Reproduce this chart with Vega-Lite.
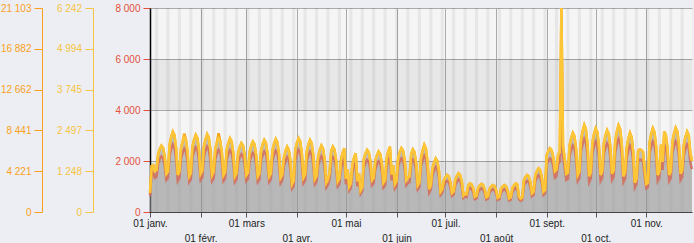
{
"$schema":"https://vega.github.io/schema/vega-lite/v6.json",
"width":542,"height":204,
"autosize":{"type":"none"},
"padding":{"left":150,"top":8,"right":2,"bottom":31},
"background":"#eceef3",
"config":{"view":{"fill":"#f5f5f5","stroke":null},"axis":{"labelFont":"Liberation Sans","labelFontSize":10,"title":null,"gridColor":"#aaaaaa","gridWidth":1}},
"datasets":{
"b":[{"y1":0,"y2":2000},{"y1":4000,"y2":6000}],
"w":[
{"s":"2014-01-04","e":"2014-01-06"},{"s":"2014-01-11","e":"2014-01-13"},{"s":"2014-01-18","e":"2014-01-20"},{"s":"2014-01-25","e":"2014-01-27"},
{"s":"2014-02-01","e":"2014-02-03"},{"s":"2014-02-08","e":"2014-02-10"},{"s":"2014-02-15","e":"2014-02-17"},{"s":"2014-02-22","e":"2014-02-24"},
{"s":"2014-03-01","e":"2014-03-03"},{"s":"2014-03-08","e":"2014-03-10"},{"s":"2014-03-15","e":"2014-03-17"},{"s":"2014-03-22","e":"2014-03-24"},{"s":"2014-03-29","e":"2014-03-31"},
{"s":"2014-04-05","e":"2014-04-07"},{"s":"2014-04-12","e":"2014-04-14"},{"s":"2014-04-19","e":"2014-04-21"},{"s":"2014-04-26","e":"2014-04-28"},
{"s":"2014-05-03","e":"2014-05-05"},{"s":"2014-05-10","e":"2014-05-12"},{"s":"2014-05-17","e":"2014-05-19"},{"s":"2014-05-24","e":"2014-05-26"},{"s":"2014-05-31","e":"2014-06-02"},
{"s":"2014-06-07","e":"2014-06-09"},{"s":"2014-06-14","e":"2014-06-16"},{"s":"2014-06-21","e":"2014-06-23"},{"s":"2014-06-28","e":"2014-06-30"},
{"s":"2014-07-05","e":"2014-07-07"},{"s":"2014-07-12","e":"2014-07-14"},{"s":"2014-07-19","e":"2014-07-21"},{"s":"2014-07-26","e":"2014-07-28"},
{"s":"2014-08-02","e":"2014-08-04"},{"s":"2014-08-09","e":"2014-08-11"},{"s":"2014-08-16","e":"2014-08-18"},{"s":"2014-08-23","e":"2014-08-25"},{"s":"2014-08-30","e":"2014-09-01"},
{"s":"2014-09-06","e":"2014-09-08"},{"s":"2014-09-13","e":"2014-09-15"},{"s":"2014-09-20","e":"2014-09-22"},{"s":"2014-09-27","e":"2014-09-29"},
{"s":"2014-10-04","e":"2014-10-06"},{"s":"2014-10-11","e":"2014-10-13"},{"s":"2014-10-18","e":"2014-10-20"},{"s":"2014-10-25","e":"2014-10-27"},
{"s":"2014-11-01","e":"2014-11-03"},{"s":"2014-11-08","e":"2014-11-10"},{"s":"2014-11-15","e":"2014-11-17"},{"s":"2014-11-22","e":"2014-11-24"},{"s":"2014-11-29","e":"2014-12-01"}
],
"m":[
{"d":"2014-01-01","v":585,"r":630,"p":1980},{"d":"2014-01-02","v":1404,"r":1512,"p":4752},{"d":"2014-01-03","v":1427,"r":1537,"p":4831},{"d":"2014-01-04","v":1248,"r":1344,"p":4224},{"d":"2014-01-05","v":1287,"r":1386,"p":4356},
{"d":"2014-01-06","v":1771,"r":1907,"p":5993},{"d":"2014-01-07","v":1927,"r":2075,"p":6521},{"d":"2014-01-08","v":2028,"r":2184,"p":6864},{"d":"2014-01-09","v":1958,"r":2108,"p":6626},{"d":"2014-01-10","v":1700,"r":1831,"p":5755},{"d":"2014-01-11","v":1170,"r":1260,"p":3960},{"d":"2014-01-12","v":1240,"r":1336,"p":4198},
{"d":"2014-01-13","v":2059,"r":2218,"p":6970},{"d":"2014-01-14","v":2301,"r":2478,"p":7788},{"d":"2014-01-15","v":2457,"r":2646,"p":8316},{"d":"2014-01-16","v":2348,"r":2528,"p":7946},{"d":"2014-01-17","v":1950,"r":2100,"p":6600},{"d":"2014-01-18","v":1131,"r":1218,"p":3828},{"d":"2014-01-19","v":1240,"r":1336,"p":4198},
{"d":"2014-01-20","v":1942,"r":2092,"p":6574},{"d":"2014-01-21","v":2153,"r":2318,"p":7286},{"d":"2014-01-22","v":2301,"r":2478,"p":8100},{"d":"2014-01-23","v":2207,"r":2377,"p":7471},{"d":"2014-01-24","v":1841,"r":1982,"p":6230},{"d":"2014-01-25","v":1092,"r":1176,"p":3696},{"d":"2014-01-26","v":1186,"r":1277,"p":4013},
{"d":"2014-01-27","v":1997,"r":2150,"p":6758},{"d":"2014-01-28","v":2215,"r":2386,"p":7498},{"d":"2014-01-29","v":2356,"r":2537,"p":7973},{"d":"2014-01-30","v":2262,"r":2436,"p":7656},{"d":"2014-01-31","v":1903,"r":2050,"p":6442},{"d":"2014-02-01","v":1170,"r":1260,"p":3960},{"d":"2014-02-02","v":1264,"r":1361,"p":4277},
{"d":"2014-02-03","v":2005,"r":2159,"p":6785},{"d":"2014-02-04","v":2231,"r":2402,"p":7550},{"d":"2014-02-05","v":2379,"r":2562,"p":8052},{"d":"2014-02-06","v":2278,"r":2453,"p":7709},{"d":"2014-02-07","v":1903,"r":2050,"p":6442},{"d":"2014-02-08","v":1131,"r":1218,"p":3828},{"d":"2014-02-09","v":1232,"r":1327,"p":4171},
{"d":"2014-02-10","v":1927,"r":2075,"p":6521},{"d":"2014-02-11","v":2129,"r":2293,"p":7207},{"d":"2014-02-12","v":2262,"r":2436,"p":8150},{"d":"2014-02-13","v":2168,"r":2335,"p":7339},{"d":"2014-02-14","v":1833,"r":1974,"p":6204},{"d":"2014-02-15","v":1131,"r":1218,"p":3828},{"d":"2014-02-16","v":1225,"r":1319,"p":4145},
{"d":"2014-02-17","v":1903,"r":2050,"p":6442},{"d":"2014-02-18","v":2114,"r":2276,"p":7154},{"d":"2014-02-19","v":2254,"r":2428,"p":7630},{"d":"2014-02-20","v":2161,"r":2327,"p":7313},{"d":"2014-02-21","v":1810,"r":1949,"p":6125},{"d":"2014-02-22","v":1092,"r":1176,"p":3696},{"d":"2014-02-23","v":1186,"r":1277,"p":4013},
{"d":"2014-02-24","v":1817,"r":1957,"p":6151},{"d":"2014-02-25","v":1989,"r":2142,"p":6732},{"d":"2014-02-26","v":2106,"r":2268,"p":7128},{"d":"2014-02-27","v":2028,"r":2184,"p":6864},{"d":"2014-02-28","v":1739,"r":1873,"p":5887},{"d":"2014-03-01","v":1131,"r":1218,"p":3828},{"d":"2014-03-02","v":1209,"r":1302,"p":4092},
{"d":"2014-03-03","v":1833,"r":1974,"p":6204},{"d":"2014-03-04","v":2028,"r":2184,"p":6864},{"d":"2014-03-05","v":2153,"r":2318,"p":7286},{"d":"2014-03-06","v":2067,"r":2226,"p":6996},{"d":"2014-03-07","v":1747,"r":1882,"p":5914},{"d":"2014-03-08","v":1092,"r":1176,"p":3696},{"d":"2014-03-09","v":1178,"r":1268,"p":3986},
{"d":"2014-03-10","v":1864,"r":2008,"p":6310},{"d":"2014-03-11","v":2067,"r":2226,"p":6996},{"d":"2014-03-12","v":2200,"r":2369,"p":7445},{"d":"2014-03-13","v":2114,"r":2276,"p":7154},{"d":"2014-03-14","v":1778,"r":1915,"p":6019},{"d":"2014-03-15","v":1092,"r":1176,"p":3696},{"d":"2014-03-16","v":1178,"r":1268,"p":3986},
{"d":"2014-03-17","v":1880,"r":2024,"p":6362},{"d":"2014-03-18","v":2090,"r":2251,"p":7075},{"d":"2014-03-19","v":2231,"r":2402,"p":7550},{"d":"2014-03-20","v":2137,"r":2302,"p":7234},{"d":"2014-03-21","v":1786,"r":1924,"p":6046},{"d":"2014-03-22","v":1053,"r":1134,"p":3564},{"d":"2014-03-23","v":1147,"r":1235,"p":3881},
{"d":"2014-03-24","v":1654,"r":1781,"p":5597},{"d":"2014-03-25","v":1864,"r":2008,"p":6310},{"d":"2014-03-26","v":1997,"r":2150,"p":6758},{"d":"2014-03-27","v":1903,"r":2050,"p":6442},{"d":"2014-03-28","v":1568,"r":1688,"p":5306},{"d":"2014-03-29","v":858,"r":924,"p":2904},{"d":"2014-03-30","v":952,"r":1025,"p":3221},
{"d":"2014-03-31","v":1895,"r":2041,"p":6415},{"d":"2014-04-01","v":2114,"r":2276,"p":7154},{"d":"2014-04-02","v":2254,"r":2428,"p":7630},{"d":"2014-04-03","v":2161,"r":2327,"p":7313},{"d":"2014-04-04","v":1802,"r":1940,"p":6098},{"d":"2014-04-05","v":1053,"r":1134,"p":3564},{"d":"2014-04-06","v":1147,"r":1235,"p":3881},
{"d":"2014-04-07","v":1841,"r":1982,"p":6230},{"d":"2014-04-08","v":2059,"r":2218,"p":6970},{"d":"2014-04-09","v":2200,"r":2369,"p":7445},{"d":"2014-04-10","v":2106,"r":2268,"p":7128},{"d":"2014-04-11","v":1747,"r":1882,"p":5914},{"d":"2014-04-12","v":1014,"r":1092,"p":3432},{"d":"2014-04-13","v":1108,"r":1193,"p":3749},
{"d":"2014-04-14","v":1693,"r":1823,"p":5729},{"d":"2014-04-15","v":1895,"r":2041,"p":6415},{"d":"2014-04-16","v":2028,"r":2184,"p":6864},{"d":"2014-04-17","v":1934,"r":2083,"p":6547},{"d":"2014-04-18","v":1599,"r":1722,"p":5412},{"d":"2014-04-19","v":897,"r":966,"p":3036},{"d":"2014-04-20","v":991,"r":1067,"p":3353},
{"d":"2014-04-21","v":1201,"r":1294,"p":4066},{"d":"2014-04-22","v":1872,"r":2016,"p":6336},{"d":"2014-04-23","v":1997,"r":2150,"p":6758},{"d":"2014-04-24","v":1911,"r":2058,"p":6468},{"d":"2014-04-25","v":1591,"r":1714,"p":5386},{"d":"2014-04-26","v":936,"r":1008,"p":3168},{"d":"2014-04-27","v":1022,"r":1100,"p":3458},
{"d":"2014-04-28","v":1599,"r":1722,"p":5412},{"d":"2014-04-29","v":1810,"r":1949,"p":6125},{"d":"2014-04-30","v":1950,"r":2100,"p":6600},{"d":"2014-05-01","v":1014,"r":1092,"p":3432},{"d":"2014-05-02","v":1310,"r":1411,"p":4435},{"d":"2014-05-03","v":780,"r":840,"p":2640},{"d":"2014-05-04","v":874,"r":941,"p":2957},
{"d":"2014-05-05","v":1459,"r":1571,"p":4937},{"d":"2014-05-06","v":1661,"r":1789,"p":5623},{"d":"2014-05-07","v":1794,"r":1932,"p":6072},{"d":"2014-05-08","v":944,"r":1016,"p":3194},{"d":"2014-05-09","v":1170,"r":1260,"p":3960},{"d":"2014-05-10","v":663,"r":714,"p":2244},{"d":"2014-05-11","v":757,"r":815,"p":2561},
{"d":"2014-05-12","v":1622,"r":1747,"p":5491},{"d":"2014-05-13","v":1786,"r":1924,"p":6046},{"d":"2014-05-14","v":1895,"r":2041,"p":6415},{"d":"2014-05-15","v":1825,"r":1966,"p":6178},{"d":"2014-05-16","v":1544,"r":1663,"p":5227},{"d":"2014-05-17","v":975,"r":1050,"p":3300},{"d":"2014-05-18","v":1045,"r":1126,"p":3538},
{"d":"2014-05-19","v":1560,"r":1680,"p":5280},{"d":"2014-05-20","v":1732,"r":1865,"p":5861},{"d":"2014-05-21","v":1849,"r":1991,"p":6257},{"d":"2014-05-22","v":1771,"r":1907,"p":5993},{"d":"2014-05-23","v":1490,"r":1604,"p":5042},{"d":"2014-05-24","v":897,"r":966,"p":3036},{"d":"2014-05-25","v":975,"r":1050,"p":3300},
{"d":"2014-05-26","v":1654,"r":1781,"p":5597},{"d":"2014-05-27","v":1864,"r":2008,"p":6310},{"d":"2014-05-28","v":1997,"r":2150,"p":6758},{"d":"2014-05-29","v":1147,"r":1235,"p":3881},{"d":"2014-05-30","v":1427,"r":1537,"p":4831},{"d":"2014-05-31","v":858,"r":924,"p":2904},{"d":"2014-06-01","v":952,"r":1025,"p":3221},
{"d":"2014-06-02","v":1661,"r":1789,"p":5623},{"d":"2014-06-03","v":1833,"r":1974,"p":6204},{"d":"2014-06-04","v":1950,"r":2100,"p":6600},{"d":"2014-06-05","v":1872,"r":2016,"p":6336},{"d":"2014-06-06","v":1583,"r":1705,"p":5359},{"d":"2014-06-07","v":975,"r":1050,"p":3300},{"d":"2014-06-08","v":1053,"r":1134,"p":3564},
{"d":"2014-06-09","v":1092,"r":1176,"p":3696},{"d":"2014-06-10","v":1778,"r":1915,"p":6019},{"d":"2014-06-11","v":1911,"r":2058,"p":6468},{"d":"2014-06-12","v":1825,"r":1966,"p":6178},{"d":"2014-06-13","v":1498,"r":1613,"p":5069},{"d":"2014-06-14","v":819,"r":882,"p":2772},{"d":"2014-06-15","v":905,"r":974,"p":3062},
{"d":"2014-06-16","v":1646,"r":1772,"p":5570},{"d":"2014-06-17","v":1888,"r":2033,"p":6389},{"d":"2014-06-18","v":2051,"r":2209,"p":6943},{"d":"2014-06-19","v":1942,"r":2092,"p":6574},{"d":"2014-06-20","v":1537,"r":1655,"p":5201},{"d":"2014-06-21","v":702,"r":756,"p":2376},{"d":"2014-06-22","v":811,"r":874,"p":2746},
{"d":"2014-06-23","v":1334,"r":1436,"p":4514},{"d":"2014-06-24","v":1513,"r":1630,"p":5122},{"d":"2014-06-25","v":1638,"r":1764,"p":5544},{"d":"2014-06-26","v":1560,"r":1680,"p":5280},{"d":"2014-06-27","v":1256,"r":1352,"p":4250},{"d":"2014-06-28","v":624,"r":672,"p":2112},{"d":"2014-06-29","v":702,"r":756,"p":2376},
{"d":"2014-06-30","v":967,"r":1042,"p":3274},{"d":"2014-07-01","v":1069,"r":1151,"p":3617},{"d":"2014-07-02","v":1131,"r":1218,"p":3828},{"d":"2014-07-03","v":1084,"r":1168,"p":3670},{"d":"2014-07-04","v":920,"r":991,"p":3115},{"d":"2014-07-05","v":585,"r":630,"p":1980},{"d":"2014-07-06","v":632,"r":680,"p":2138},
{"d":"2014-07-07","v":983,"r":1058,"p":3326},{"d":"2014-07-08","v":1108,"r":1193,"p":3749},{"d":"2014-07-09","v":1186,"r":1277,"p":4013},{"d":"2014-07-10","v":1131,"r":1218,"p":3828},{"d":"2014-07-11","v":928,"r":1000,"p":3142},{"d":"2014-07-12","v":507,"r":546,"p":1716},{"d":"2014-07-13","v":562,"r":605,"p":1901},
{"d":"2014-07-14","v":546,"r":588,"p":1848},{"d":"2014-07-15","v":827,"r":890,"p":2798},{"d":"2014-07-16","v":874,"r":941,"p":2957},{"d":"2014-07-17","v":842,"r":907,"p":2851},{"d":"2014-07-18","v":725,"r":781,"p":2455},{"d":"2014-07-19","v":468,"r":504,"p":1584},{"d":"2014-07-20","v":499,"r":538,"p":1690},
{"d":"2014-07-21","v":733,"r":790,"p":2482},{"d":"2014-07-22","v":811,"r":874,"p":2746},{"d":"2014-07-23","v":858,"r":924,"p":2904},{"d":"2014-07-24","v":827,"r":890,"p":2798},{"d":"2014-07-25","v":702,"r":756,"p":2376},{"d":"2014-07-26","v":452,"r":487,"p":1531},{"d":"2014-07-27","v":484,"r":521,"p":1637},
{"d":"2014-07-28","v":710,"r":764,"p":2402},{"d":"2014-07-29","v":780,"r":840,"p":2640},{"d":"2014-07-30","v":827,"r":890,"p":2798},{"d":"2014-07-31","v":796,"r":857,"p":2693},{"d":"2014-08-01","v":679,"r":731,"p":2297},{"d":"2014-08-02","v":437,"r":470,"p":1478},{"d":"2014-08-03","v":468,"r":504,"p":1584},
{"d":"2014-08-04","v":702,"r":756,"p":2376},{"d":"2014-08-05","v":780,"r":840,"p":2640},{"d":"2014-08-06","v":827,"r":890,"p":2798},{"d":"2014-08-07","v":796,"r":857,"p":2693},{"d":"2014-08-08","v":671,"r":722,"p":2270},{"d":"2014-08-09","v":421,"r":454,"p":1426},{"d":"2014-08-10","v":452,"r":487,"p":1531},
{"d":"2014-08-11","v":733,"r":790,"p":2482},{"d":"2014-08-12","v":819,"r":882,"p":2772},{"d":"2014-08-13","v":874,"r":941,"p":2957},{"d":"2014-08-14","v":842,"r":907,"p":2851},{"d":"2014-08-15","v":476,"r":512,"p":1610},{"d":"2014-08-16","v":406,"r":437,"p":1373},{"d":"2014-08-17","v":445,"r":479,"p":1505},
{"d":"2014-08-18","v":967,"r":1042,"p":3274},{"d":"2014-08-19","v":1069,"r":1151,"p":3617},{"d":"2014-08-20","v":1131,"r":1218,"p":3828},{"d":"2014-08-21","v":1084,"r":1168,"p":3670},{"d":"2014-08-22","v":920,"r":991,"p":3115},{"d":"2014-08-23","v":577,"r":622,"p":1954},{"d":"2014-08-24","v":624,"r":672,"p":2112},
{"d":"2014-08-25","v":1123,"r":1210,"p":3802},{"d":"2014-08-26","v":1248,"r":1344,"p":4224},{"d":"2014-08-27","v":1334,"r":1436,"p":4514},{"d":"2014-08-28","v":1279,"r":1378,"p":4330},{"d":"2014-08-29","v":1061,"r":1142,"p":3590},{"d":"2014-08-30","v":624,"r":672,"p":2112},{"d":"2014-08-31","v":679,"r":731,"p":2297},
{"d":"2014-09-01","v":1739,"r":1873,"p":5887},{"d":"2014-09-02","v":1864,"r":2008,"p":6310},{"d":"2014-09-03","v":1950,"r":2100,"p":6600},{"d":"2014-09-04","v":1895,"r":2041,"p":6415},{"d":"2014-09-05","v":1685,"r":1814,"p":5702},{"d":"2014-09-06","v":1248,"r":1344,"p":4224},{"d":"2014-09-07","v":1303,"r":1403,"p":4409},
{"d":"2014-09-08","v":1755,"r":1890,"p":5940},{"d":"2014-09-09","v":1833,"r":1974,"p":6204},{"d":"2014-09-10","v":6242,"r":3600,"p":21103},{"d":"2014-09-11","v":2028,"r":2184,"p":6864},{"d":"2014-09-12","v":1638,"r":1764,"p":5544},{"d":"2014-09-13","v":1170,"r":1260,"p":3960},{"d":"2014-09-14","v":1209,"r":1302,"p":4092},
{"d":"2014-09-15","v":2036,"r":2192,"p":6890},{"d":"2014-09-16","v":2262,"r":2436,"p":7656},{"d":"2014-09-17","v":2418,"r":2604,"p":8184},{"d":"2014-09-18","v":2317,"r":2495,"p":7841},{"d":"2014-09-19","v":1927,"r":2075,"p":6521},{"d":"2014-09-20","v":1131,"r":1218,"p":3828},{"d":"2014-09-21","v":1232,"r":1327,"p":4171},
{"d":"2014-09-22","v":2192,"r":2360,"p":7418},{"d":"2014-09-23","v":2473,"r":2663,"p":8369},{"d":"2014-09-24","v":2660,"r":2864,"p":9002},{"d":"2014-09-25","v":2535,"r":2730,"p":8580},{"d":"2014-09-26","v":2067,"r":2226,"p":6996},{"d":"2014-09-27","v":1092,"r":1176,"p":3696},{"d":"2014-09-28","v":1217,"r":1310,"p":4118},
{"d":"2014-09-29","v":2129,"r":2293,"p":7207},{"d":"2014-09-30","v":2387,"r":2570,"p":8078},{"d":"2014-10-01","v":2558,"r":2755,"p":8659},{"d":"2014-10-02","v":2441,"r":2629,"p":8263},{"d":"2014-10-03","v":2020,"r":2176,"p":6838},{"d":"2014-10-04","v":1131,"r":1218,"p":3828},{"d":"2014-10-05","v":1248,"r":1344,"p":4224},
{"d":"2014-10-06","v":2098,"r":2260,"p":7102},{"d":"2014-10-07","v":2340,"r":2520,"p":7920},{"d":"2014-10-08","v":2496,"r":2688,"p":8448},{"d":"2014-10-09","v":2387,"r":2570,"p":8078},{"d":"2014-10-10","v":1989,"r":2142,"p":6732},{"d":"2014-10-11","v":1170,"r":1260,"p":3960},{"d":"2014-10-12","v":1279,"r":1378,"p":4330},
{"d":"2014-10-13","v":2184,"r":2352,"p":7392},{"d":"2014-10-14","v":2465,"r":2654,"p":8342},{"d":"2014-10-15","v":2652,"r":2856,"p":8976},{"d":"2014-10-16","v":2527,"r":2722,"p":8554},{"d":"2014-10-17","v":2059,"r":2218,"p":6970},{"d":"2014-10-18","v":1092,"r":1176,"p":3696},{"d":"2014-10-19","v":1217,"r":1310,"p":4118},
{"d":"2014-10-20","v":1966,"r":2117,"p":6653},{"d":"2014-10-21","v":2239,"r":2411,"p":7577},{"d":"2014-10-22","v":2418,"r":2604,"p":8184},{"d":"2014-10-23","v":2293,"r":2470,"p":7762},{"d":"2014-10-24","v":1841,"r":1982,"p":6230},{"d":"2014-10-25","v":897,"r":966,"p":3036},{"d":"2014-10-26","v":1022,"r":1100,"p":3458},
{"d":"2014-10-27","v":1872,"r":2016,"p":6336},{"d":"2014-10-28","v":1911,"r":2058,"p":6468},{"d":"2014-10-29","v":1895,"r":2041,"p":6415},{"d":"2014-10-30","v":1833,"r":1974,"p":6204},{"d":"2014-10-31","v":1326,"r":1428,"p":4488},{"d":"2014-11-01","v":858,"r":924,"p":2904},{"d":"2014-11-02","v":897,"r":966,"p":3036},
{"d":"2014-11-03","v":2129,"r":2293,"p":7207},{"d":"2014-11-04","v":2387,"r":2570,"p":8078},{"d":"2014-11-05","v":2558,"r":2755,"p":8659},{"d":"2014-11-06","v":2441,"r":2629,"p":8263},{"d":"2014-11-07","v":2020,"r":2176,"p":6838},{"d":"2014-11-08","v":1131,"r":1218,"p":3828},{"d":"2014-11-09","v":1248,"r":1344,"p":4224},
{"d":"2014-11-10","v":2059,"r":2218,"p":6970},{"d":"2014-11-11","v":1529,"r":1646,"p":5174},{"d":"2014-11-12","v":2457,"r":2646,"p":8316},{"d":"2014-11-13","v":2348,"r":2528,"p":7946},{"d":"2014-11-14","v":1950,"r":2100,"p":6600},{"d":"2014-11-15","v":1131,"r":1218,"p":3828},{"d":"2014-11-16","v":1240,"r":1336,"p":4198},
{"d":"2014-11-17","v":2153,"r":2318,"p":7286},{"d":"2014-11-18","v":2402,"r":2587,"p":8131},{"d":"2014-11-19","v":2574,"r":2772,"p":8712},{"d":"2014-11-20","v":2465,"r":2654,"p":8342},{"d":"2014-11-21","v":2044,"r":2201,"p":6917},{"d":"2014-11-22","v":1170,"r":1260,"p":3960},{"d":"2014-11-23","v":1279,"r":1378,"p":4330},
{"d":"2014-11-24","v":2059,"r":2218,"p":6970},{"d":"2014-11-25","v":2301,"r":2478,"p":7788},{"d":"2014-11-26","v":2457,"r":2646,"p":8316},{"d":"2014-11-27","v":2348,"r":2528,"p":7946},{"d":"2014-11-28","v":1794,"r":1932,"p":6072},{"d":"2014-11-29","v":1560,"r":1680,"p":5280}
]},
"layer":[
{"data":{"name":"b"},"mark":{"type":"rect","fill":"#000000","opacity":0.055},
 "encoding":{"y":{"field":"y1","type":"quantitative","scale":{"domain":[0,8000],"nice":false},"axis":null},"y2":{"field":"y2"}}},
{"data":{"name":"w"},"mark":{"type":"rect","fill":"#000000","opacity":0.055,"clip":true},
 "encoding":{"x":{"field":"s","type":"temporal","scale":{"type":"utc","domain":[{"year":2014,"month":1,"date":1,"utc":true},{"year":2014,"month":11,"date":29,"utc":true}]},
   "axis":{"title":null,"values":[{"year":2014,"month":1,"date":1,"utc":true},{"year":2014,"month":2,"date":1,"utc":true},{"year":2014,"month":3,"date":1,"utc":true},{"year":2014,"month":4,"date":1,"utc":true},{"year":2014,"month":5,"date":1,"utc":true},{"year":2014,"month":6,"date":1,"utc":true},{"year":2014,"month":7,"date":1,"utc":true},{"year":2014,"month":8,"date":1,"utc":true},{"year":2014,"month":9,"date":1,"utc":true},{"year":2014,"month":10,"date":1,"utc":true},{"year":2014,"month":11,"date":1,"utc":true}],
   "labelExpr":"utcmonth(datum.value) % 2 == 0 ? ['01 ' + ['janv.','févr.','mars','avr.','mai','juin','juil.','août','sept.','oct.','nov.','déc.'][utcmonth(datum.value)], ''] : ['', '01 ' + ['janv.','févr.','mars','avr.','mai','juin','juil.','août','sept.','oct.','nov.','déc.'][utcmonth(datum.value)]]",
   "labelFlush":false,"labelOverlap":false,"labelBaseline":"top","labelLineHeight":15,"labelPadding":1,"tickSize":5,"tickColor":"#555555","domainColor":"#444444","labelColor":"#222222","grid":true,"gridColor":"#aaaaaa"}},
  "x2":{"field":"e"}}},
{"data":{"name":"m"},"mark":{"type":"area","color":"#999999","opacity":0.6},
 "encoding":{"x":{"field":"d","type":"temporal","scale":{"type":"utc","domain":[{"year":2014,"month":1,"date":1,"utc":true},{"year":2014,"month":11,"date":29,"utc":true}]},"axis":{"title":null}},
  "y":{"field":"v","type":"quantitative","scale":{"domain":[0,6242],"nice":false},"axis":null}}},
{"data":{"name":"m"},"mark":{"type":"line","color":"#d4705f","opacity":0.9,"strokeWidth":2.5},
 "encoding":{"x":{"field":"d","type":"temporal","scale":{"type":"utc","domain":[{"year":2014,"month":1,"date":1,"utc":true},{"year":2014,"month":11,"date":29,"utc":true}]},"axis":{"title":null}},
  "y":{"field":"r","type":"quantitative","scale":{"domain":[0,8000],"nice":false},
   "axis":{"orient":"left","offset":0,"title":null,"values":[0,2000,4000,6000,8000],"labelExpr":"replace(format(datum.value, ','), ',', ' ')","labelColor":"#e5503a","tickColor":"#e5503a","tickSize":7,"labelPadding":3,"domainColor":"#000000","domainWidth":1.5,"grid":true,"gridColor":"#aaaaaa"}}}},
{"data":{"name":"m"},"mark":{"type":"line","color":"#f8a010","strokeWidth":2.5},
 "encoding":{"x":{"field":"d","type":"temporal","scale":{"type":"utc","domain":[{"year":2014,"month":1,"date":1,"utc":true},{"year":2014,"month":11,"date":29,"utc":true}]},"axis":{"title":null}},
  "y":{"field":"p","type":"quantitative","scale":{"domain":[0,21103],"nice":false},
   "axis":{"orient":"left","offset":108,"title":null,"values":[0,4220.6,8441.2,12661.8,16882.4,21103],"labelExpr":"replace(format(datum.value, ',.0f'), ',', ' ')","labelColor":"#f9a11b","tickColor":"#f9a11b","domainColor":"#f9a11b","tickSize":8,"labelPadding":3,"grid":false}}}},
{"data":{"name":"m"},"mark":{"type":"line","color":"#fdc637","strokeWidth":2.5},
 "encoding":{"x":{"field":"d","type":"temporal","scale":{"type":"utc","domain":[{"year":2014,"month":1,"date":1,"utc":true},{"year":2014,"month":11,"date":29,"utc":true}]},"axis":{"title":null}},
  "y":{"field":"v","type":"quantitative","scale":{"domain":[0,6242],"nice":false},
   "axis":{"orient":"left","offset":57,"title":null,"values":[0,1248.4,2496.8,3745.2,4993.6,6242],"labelExpr":"replace(format(datum.value, ',.0f'), ',', ' ')","labelColor":"#f7c443","tickColor":"#f7c443","domainColor":"#f7c443","tickSize":8,"labelPadding":3.5,"grid":false}}}}
],
"resolve":{"scale":{"y":"independent"},"axis":{"y":"independent"}}
}
